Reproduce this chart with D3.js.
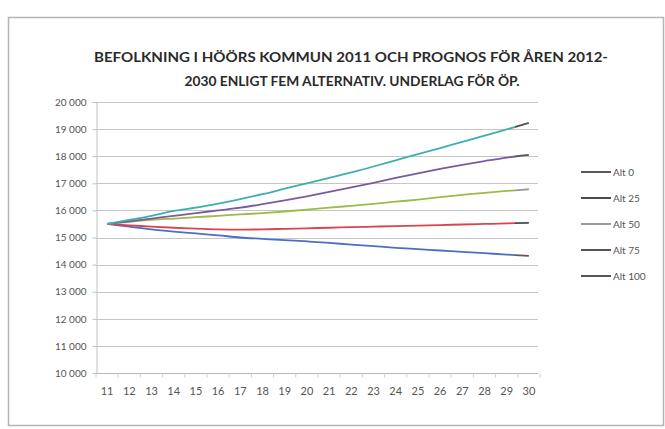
<!DOCTYPE html>
<html>
<head>
<meta charset="utf-8">
<script src="https://cdn.jsdelivr.net/npm/d3@7"></script>
<style>
  html, body { margin: 0; padding: 0; background: #fff; }
  svg { display: block; }
  text { font-family: Lato, "Open Sans", sans-serif; }
</style>
</head>
<body>
<svg id="chart" width="665" height="429"></svg>
<script>
// Years shown as two-digit labels
const years = ["11","12","13","14","15","16","17","18","19","20","21","22","23","24","25","26","27","28","29","30"];

// Population per alternative
const alt0   = [15500,15400,15300,15220,15150,15080,15000,14950,14900,14860,14800,14740,14680,14620,14570,14520,14470,14420,14370,14320];
const alt25  = [15500,15450,15400,15360,15330,15300,15290,15300,15320,15340,15360,15380,15400,15420,15440,15460,15480,15500,15520,15540];
const alt50  = [15500,15580,15650,15700,15750,15800,15850,15900,15960,16030,16100,16170,16240,16320,16400,16490,16570,16650,16720,16780];
const alt75  = [15500,15600,15700,15800,15900,16000,16100,16230,16370,16520,16680,16850,17020,17200,17370,17530,17680,17820,17950,18050];
const alt100 = [15500,15650,15800,15980,16100,16250,16420,16600,16800,17000,17200,17400,17620,17850,18080,18300,18530,18760,18990,19230];

const seriesNames = ["Alt 0","Alt 25","Alt 50","Alt 75","Alt 100"];
const seriesValues = [alt0, alt25, alt50, alt75, alt100];
const seriesColors = ["#4a6fc9","#d8454f","#9cbb4a","#7a5aa0","#3eafb0"];
const legendColors = ["#5a5a5a","#4a4a4a","#9a9a9a","#555555","#555555"];

const yTicks = [10000,11000,12000,13000,14000,15000,16000,17000,18000,19000,20000];

const titleLines = [
  "BEFOLKNING I HÖÖRS KOMMUN 2011 OCH PROGNOS FÖR ÅREN 2012-",
  "2030 ENLIGT FEM ALTERNATIV. UNDERLAG FÖR ÖP."
];

const svg = d3.select("#chart");

// Outer frame
svg.append("rect")
  .attr("x", 8.5).attr("y", 17.5).attr("width", 655).attr("height", 408)
  .attr("fill", "#fff").attr("stroke", "#b4b4b4").attr("stroke-width", 1.5);

// Title
const title = svg.append("g");
title.append("text")
  .attr("x", 351).attr("y", 62).attr("text-anchor", "middle")
  .attr("font-size", 13.5).attr("font-weight", "bold").attr("fill", "#2a2a2a")
  .attr("textLength", 514).attr("lengthAdjust", "spacingAndGlyphs")
  .text(titleLines[0]);
title.append("text")
  .attr("x", 352).attr("y", 86).attr("text-anchor", "middle")
  .attr("font-size", 13.5).attr("font-weight", "bold").attr("fill", "#2a2a2a")
  .attr("textLength", 335).attr("lengthAdjust", "spacingAndGlyphs")
  .text(titleLines[1]);

// Scales
const x = d3.scaleBand().domain(years).range([96, 540]);
const y = d3.scaleLinear().domain([10000, 20000]).range([373, 102]);
const cx = d => x(d) + x.bandwidth() / 2;

// Gridlines
svg.append("g")
  .selectAll("line").data(yTicks.slice(1)).join("line")
  .attr("x1", 96).attr("x2", 538)
  .attr("y1", d => Math.round(y(d)) + 0.5).attr("y2", d => Math.round(y(d)) + 0.5)
  .attr("stroke", "#c6c6c6").attr("stroke-width", 1.2);

// Y axis
const yAxis = svg.append("g")
  .attr("transform", "translate(96.5,0)")
  .call(d3.axisLeft(y).tickValues(yTicks).tickSize(4).tickFormat(d => d3.format(",")(d).replace(",", " ")));
yAxis.select(".domain").attr("stroke", "#c0c0c0");
yAxis.selectAll(".tick line").attr("stroke", "#c0c0c0");
yAxis.selectAll(".tick text")
  .attr("x", -10).attr("font-size", 10).attr("fill", "#555")
  .attr("font-family", "Lato, sans-serif");

// X axis
const xAxis = svg.append("g")
  .attr("transform", "translate(0,373.5)")
  .call(d3.axisBottom(x).tickSize(0).tickPadding(14));
xAxis.select(".domain").attr("stroke", "#b8b8b8").attr("d", "M96,0H538");
xAxis.selectAll(".tick text")
  .attr("font-size", 11).attr("fill", "#555")
  .attr("font-family", "Lato, sans-serif");
xAxis.selectAll(".xtick").data(years.concat(["end"])).join("line")
  .attr("class", "xtick")
  .attr("x1", (d, i) => 96 + i * x.bandwidth()).attr("x2", (d, i) => 96 + i * x.bandwidth())
  .attr("y1", 0).attr("y2", 4).attr("stroke", "#d0d0d0");

// Series lines
const line = d3.line()
  .x((d, i) => cx(years[i]))
  .y(d => y(d))
  .curve(d3.curveMonotoneX);

svg.append("defs").html(
  '<clipPath id="plotColor"><rect x="90" y="90" width="425" height="300"/></clipPath>' +
  '<clipPath id="plotGrey"><rect x="515" y="90" width="40" height="300"/></clipPath>'
);

const lines = svg.append("g");
lines.append("g").attr("clip-path", "url(#plotColor)")
  .selectAll("path").data(seriesValues).join("path")
  .attr("d", line).attr("fill", "none")
  .attr("stroke", (d, i) => seriesColors[i]).attr("stroke-width", 1.8)
  .attr("stroke-linejoin", "round");
lines.append("g").attr("clip-path", "url(#plotGrey)")
  .selectAll("path").data(seriesValues).join("path")
  .attr("d", line).attr("fill", "none")
  .attr("stroke", (d, i) => legendColors[i]).attr("stroke-width", 1.8)
  .attr("stroke-linejoin", "round");

// Legend
const legend = svg.append("g");
const ly = [172, 198, 224, 250, 276];
seriesNames.forEach((name, i) => {
  legend.append("line")
    .attr("x1", 581).attr("x2", 611).attr("y1", ly[i]).attr("y2", ly[i])
    .attr("stroke", legendColors[i]).attr("stroke-width", 2);
  legend.append("text")
    .attr("x", 613).attr("y", ly[i] + 3.5)
    .attr("font-size", 10).attr("fill", "#555")
    .text(name);
});
</script>
</body>
</html>
